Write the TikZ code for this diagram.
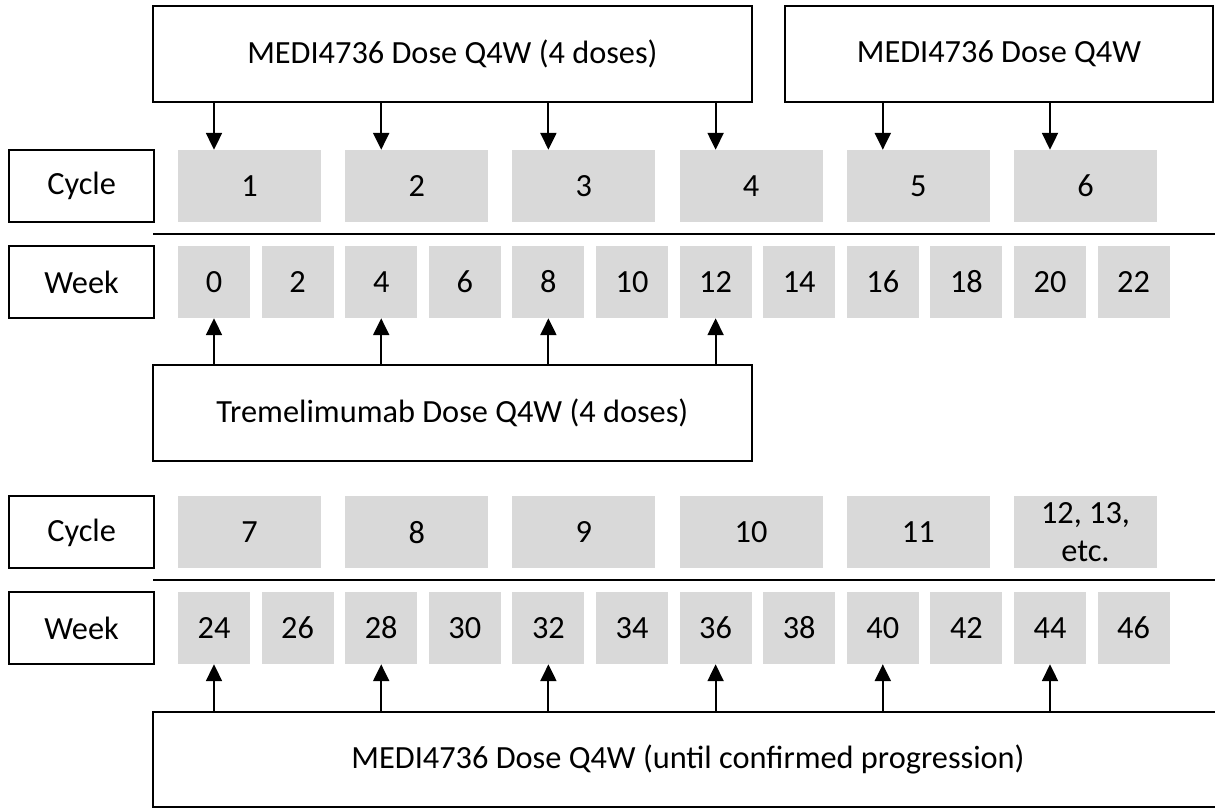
\documentclass[tikz,border=0pt]{standalone}
\usepackage{fontspec}
\setmainfont{Carlito}
\usepackage{tikz}
\usetikzlibrary{arrows.meta, positioning, calc}
\definecolor{slotgray}{RGB}{217, 217, 217}

\begin{document}
\begin{tikzpicture}[
    font=\fontsize{23}{27}\selectfont,
    dosebox/.style={draw, line width=1.3pt, fill=white, minimum height=2.4cm, inner sep=0pt, align=center},
    rowlbl/.style={draw, line width=1.3pt, fill=white, minimum width=3.625cm, minimum height=1.8cm, inner sep=0pt},
    cyc/.style={fill=slotgray, minimum width=3.575cm, minimum height=1.8cm, inner sep=0pt, align=center},
    wk/.style={fill=slotgray, minimum width=1.8cm, minimum height=1.8cm, inner sep=0pt},
    give/.style={-{Triangle[length=0.42cm, width=0.4cm]}, line width=1.3pt},
    sep/.style={line width=1.3pt},
]
\clip (0,0) rectangle (30.375,-20.2);

% --- Dose boxes above the first block ---
\node[dosebox, minimum width=14.975cm] (doseA) at (11.31,-1.35) {MEDI4736 Dose Q4W (4 doses)};
\node[dosebox, minimum width=10.7cm] (doseB) at (24.975,-1.35) {MEDI4736 Dose Q4W};

% --- First block: cycles 1--6, weeks 0--22 ---
\node[rowlbl] (cyclbl1) at (2.04,-4.65) {Cycle};
\node[rowlbl] (wklbl1) at (2.04,-7.05) {Week};
\foreach \i in {1,...,6}
    \node[cyc] (cyc\i) at (6.2375+4.18*\i-4.18,-4.65) {\i};
\foreach \i in {0,...,11} {
    \pgfmathtruncatemacro{\w}{2*\i}
    \node[wk] (wk\w) at (5.35+2.09*\i,-7.05) {\w};
}
\draw[sep] (3.825,-5.85) -- (30.375,-5.85);

% --- Tremelimumab box below the first block ---
\node[dosebox, minimum width=14.975cm] (treme) at (11.31,-10.325) {Tremelimumab Dose Q4W (4 doses)};

% --- Second block: cycles 7--12, weeks 24--46 ---
\node[rowlbl] (cyclbl2) at (2.04,-13.31) {Cycle};
\node[rowlbl] (wklbl2) at (2.04,-15.7) {Week};
\foreach \i in {7,...,11}
    \node[cyc] (cyc\i) at (6.2375+4.18*\i-29.26,-13.31) {\i};
\node[cyc] (cyc12) at (27.1375,-13.31) {12, 13,\\etc.};
\foreach \i in {0,...,11} {
    \pgfmathtruncatemacro{\w}{24+2*\i}
    \node[wk] (wk\w) at (5.35+2.09*\i,-15.7) {\w};
}
\draw[sep] (3.825,-14.5) -- (30.375,-14.5);

% --- Maintenance box (runs off the right edge) ---
\node[dosebox, minimum width=26.75cm, minimum height=2.375cm] (doseC) at (17.2,-18.99) {MEDI4736 Dose Q4W (until confirmed progression)};

% --- Dosing arrows ---
\foreach \w in {0,4,8,12}
    \draw[give] (wk\w |- doseA.south) -- (wk\w |- cyc1.north);
\foreach \w in {16,20}
    \draw[give] (wk\w |- doseB.south) -- (wk\w |- cyc1.north);
\foreach \w in {0,4,8,12}
    \draw[give] (wk\w |- treme.north) -- (wk\w.south);
\foreach \w in {24,28,...,44}
    \draw[give] (wk\w |- doseC.north) -- (wk\w.south);

\end{tikzpicture}
\end{document}
